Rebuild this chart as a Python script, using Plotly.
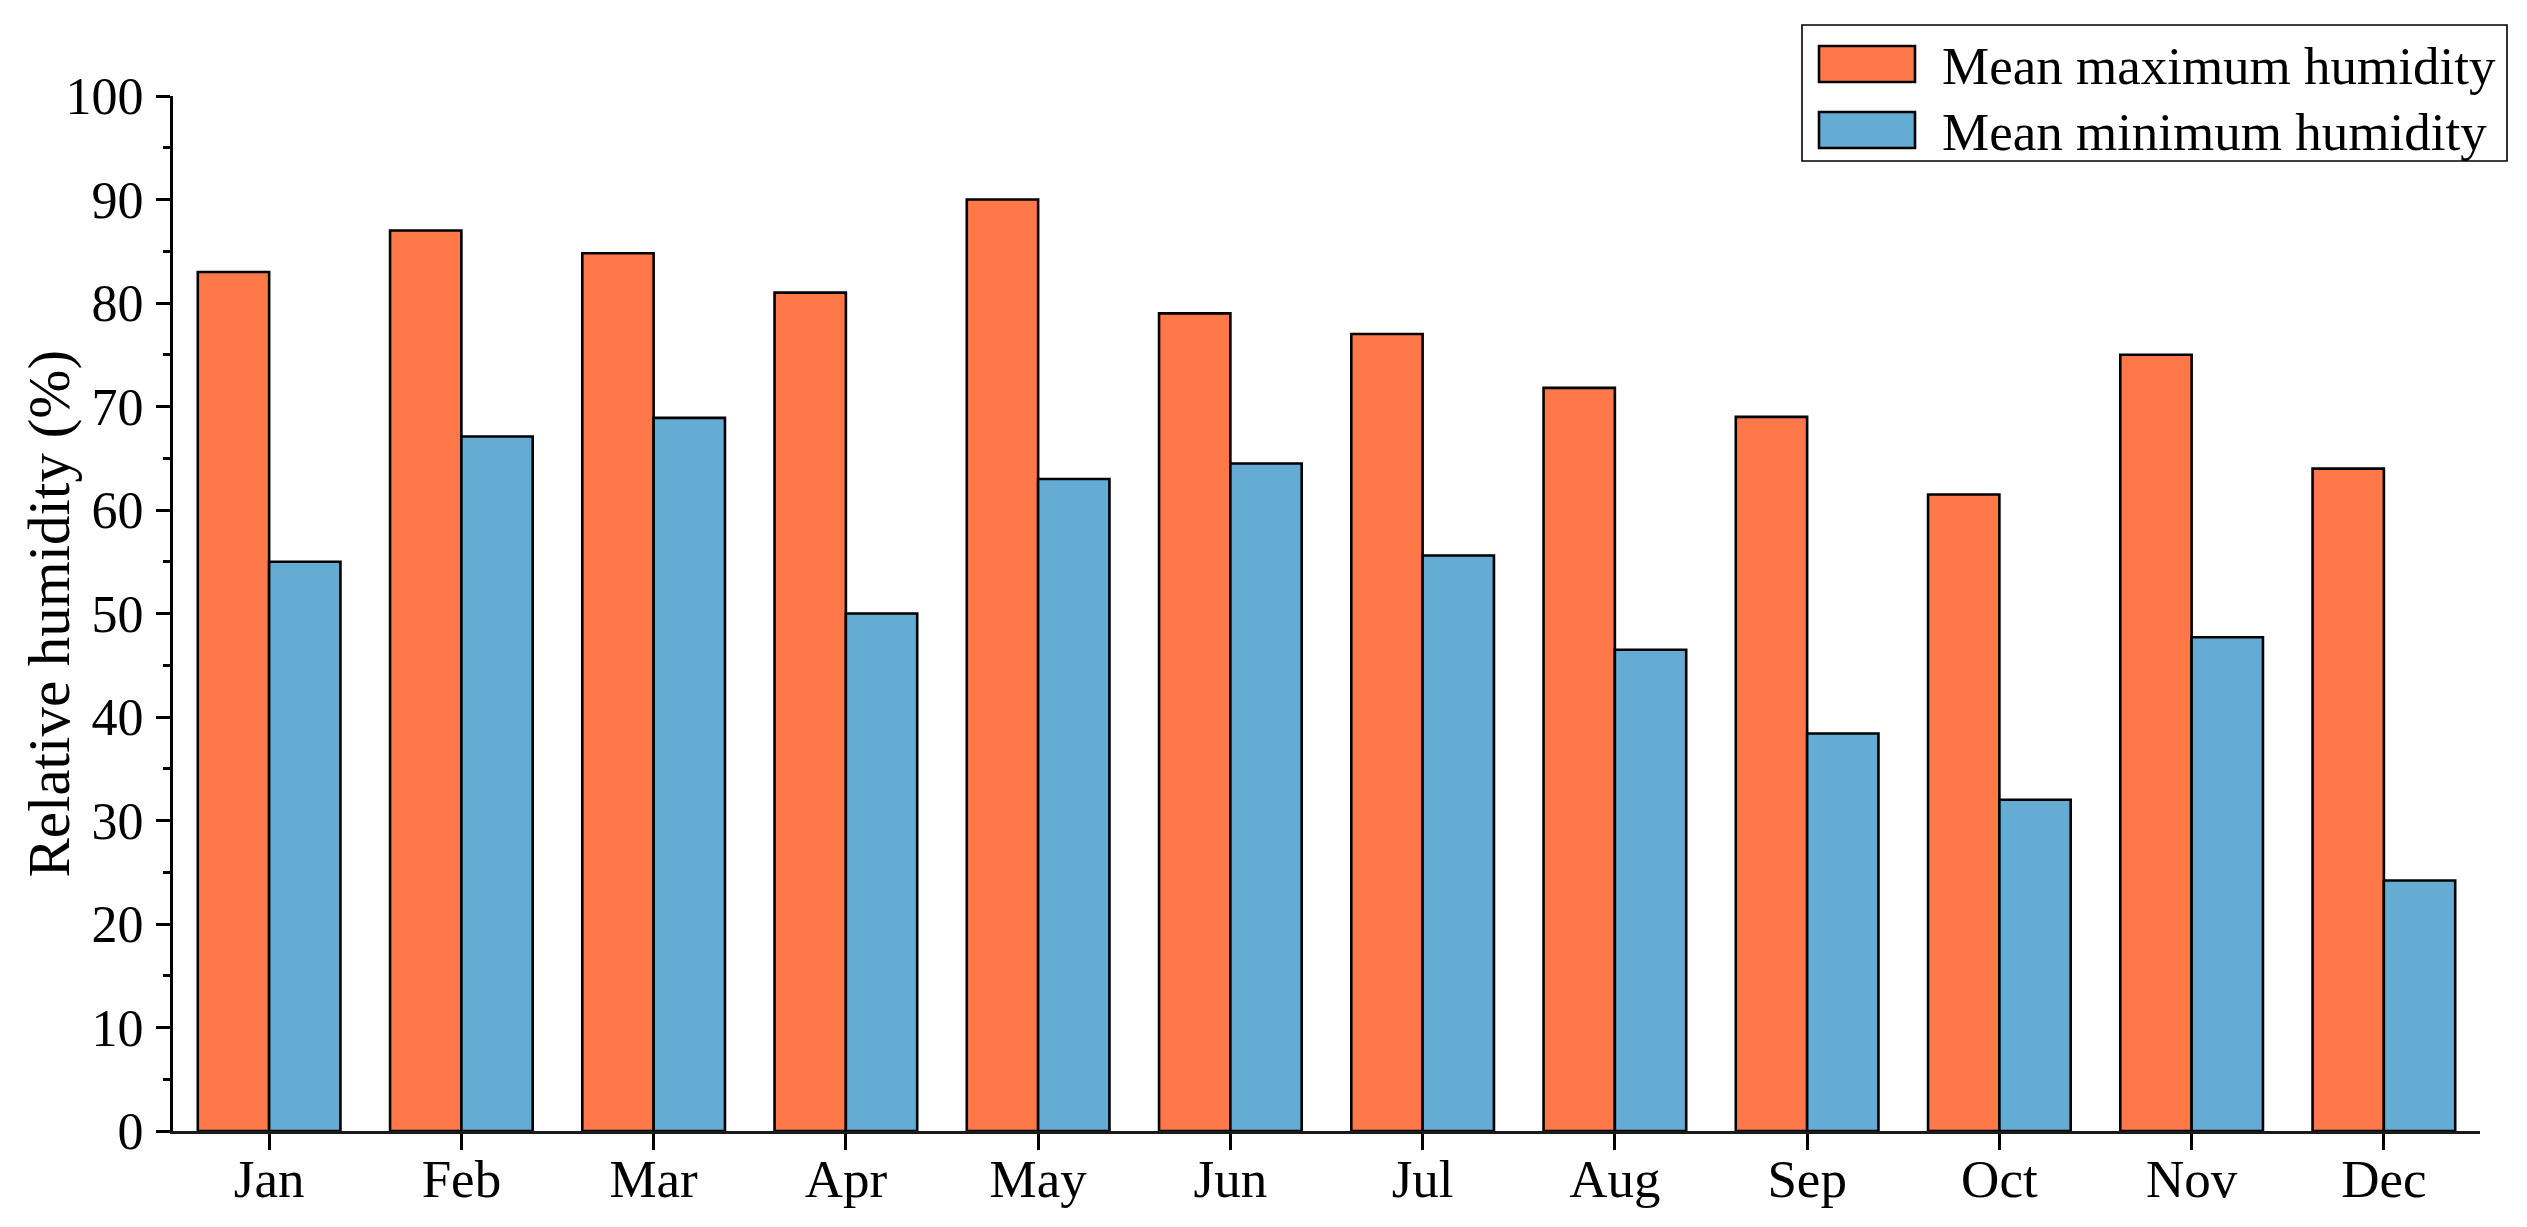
import plotly.graph_objects as go

months = ["Jan", "Feb", "Mar", "Apr", "May", "Jun", "Jul", "Aug", "Sep", "Oct", "Nov", "Dec"]
max_humidity = [83, 87, 84.8, 81, 90, 79, 77, 71.8, 69, 61.5, 75, 64]
min_humidity = [55, 67.1, 68.9, 50, 63, 64.5, 55.6, 46.5, 38.4, 32, 47.7, 24.2]
series_names = ["Mean maximum humidity", "Mean minimum humidity"]
series_colors = ["#FF784A", "#64ACD4"]
y_title = "Relative humidity (%)"

# page is offset by the 8px body margin, so the figure is 8px smaller
OFF = 8
W, H = 2527 - OFF, 1227 - OFF
L, R, T, B = 173 - OFF, 47, 96 - OFF, 96
FONT = "Liberation Serif"

fig = go.Figure()
for name, vals, col in zip(series_names, [max_humidity, min_humidity], series_colors):
    fig.add_trace(go.Bar(
        x=months, y=vals, name=name,
        marker=dict(color=col, line=dict(color="black", width=2.6)),
        showlegend=False,
    ))

fig.update_layout(
    width=W, height=H,
    margin=dict(l=L, r=R, t=T, b=B, pad=0, autoexpand=False),
    paper_bgcolor="white", plot_bgcolor="white",
    barmode="group", bargap=0.258, bargroupgap=0,
    font=dict(family=FONT, color="black", size=52),
)
fig.update_xaxes(
    automargin=False,
    range=[-0.5, 11.5], showline=True, linecolor="#1a1a1a", linewidth=3,
    ticks="outside", ticklen=16, tickwidth=2.5, tickcolor="black",
    showgrid=False, zeroline=False, ticklabelstandoff=-17,
    tickfont=dict(family=FONT, size=53, color="black"),
)
fig.update_yaxes(
    automargin=False,
    range=[0, 100], dtick=10, showline=True, linecolor="black", linewidth=3,
    ticks="outside", ticklen=14, tickwidth=3, tickcolor="black",
    minor=dict(dtick=5, ticks="outside", ticklen=7, tickwidth=2.5, tickcolor="black"),
    showgrid=False, zeroline=False, ticklabelstandoff=2,
    tickfont=dict(family=FONT, size=52, color="black"),
)

pw, ph = W - L - R, H - T - B
def px(x):
    # x in page pixels -> paper fraction
    return (x - OFF - L) / pw
def py(y):
    return (H - B - (y - OFF)) / ph

# y-axis title
fig.add_annotation(
    text=y_title, xref="paper", yref="paper", x=px(48), y=0.5,
    xanchor="center", yanchor="middle", textangle=-90, showarrow=False,
    font=dict(family=FONT, size=59, color="black"),
)

# custom legend
fig.add_shape(type="rect", xref="paper", yref="paper",
              x0=px(1802), x1=px(2507), y0=py(161), y1=py(25),
              line=dict(color="black", width=1.6), fillcolor="white", layer="above")
rows = [64, 130]
for name, col, yc in zip(series_names, series_colors, rows):
    fig.add_shape(type="rect", xref="paper", yref="paper",
                  x0=px(1819), x1=px(1915), y0=py(yc + 18), y1=py(yc - 18),
                  line=dict(color="black", width=2.6), fillcolor=col, layer="above")
    fig.add_annotation(text=name, xref="paper", yref="paper",
                       x=px(1940), y=py(yc + 2), xanchor="left", yanchor="middle",
                       showarrow=False, font=dict(family=FONT, size=53, color="black"))

fig.write_html("out.html")
